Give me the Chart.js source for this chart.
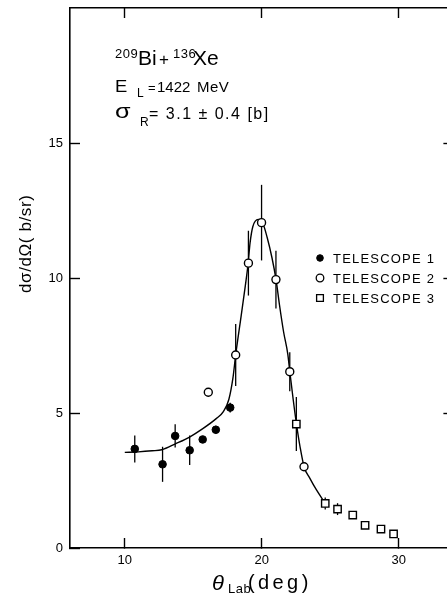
<!DOCTYPE html>
<html>
<head>
<meta charset="utf-8">
<script src="https://cdn.jsdelivr.net/npm/chart.js@4.4.1/dist/chart.umd.min.js"></script>
<style>
  html, body { margin:0; padding:0; background:#fff; overflow:hidden; }
  canvas { display:block; }
</style>
</head>
<body>
<canvas id="c" width="460" height="598"></canvas>
<script>
/* ---------- data ---------- */
const t1X   = [10.73, 12.76, 13.68, 14.74, 15.69, 16.65, 17.70];
const t1Y   = [3.67, 3.10, 4.15, 3.62, 4.02, 4.38, 5.20];
const t1Err = [0.50, 0.65, 0.43, 0.55, 0, 0.15, 0.18];

const t2X   = [16.10, 18.10, 19.03, 19.99, 21.04, 22.05, 23.09];
const t2Y   = [5.77, 7.15, 10.55, 12.05, 9.94, 6.53, 3.01];
const t2Err = [0.15, 1.15, 1.20, 1.40, 1.07, 0.72, 0.15];

const t3X   = [22.53, 24.64, 25.54, 26.65, 27.55, 28.71, 29.63];
const t3Y   = [4.59, 1.65, 1.44, 1.22, 0.84, 0.70, 0.52];
const t3Err = [1.00, 0.22, 0.22, 0, 0, 0, 0];

// fitted curve
const fitX = [10.0, 11.0, 12.0, 12.7, 13.7, 14.7, 15.7, 16.7, 17.2, 17.6, 17.9, 18.1, 18.5, 18.8, 19.0, 19.15, 19.35, 19.75, 20.1, 20.4, 20.75, 21.05, 21.3, 21.6, 21.9, 22.05, 22.3, 22.55, 22.8, 23.1, 23.5, 24.0, 24.65];
const fitY = [3.54, 3.56, 3.60, 3.64, 3.86, 4.10, 4.42, 4.80, 5.05, 5.50, 6.30, 7.15, 8.60, 9.70, 10.50, 11.30, 11.90, 12.17, 12.00, 11.50, 10.75, 9.93, 9.00, 8.00, 7.20, 6.55, 5.50, 4.55, 3.75, 3.00, 2.60, 2.15, 1.65];

const xTicks = [10, 20, 30];
const yTicks = [0, 5, 10, 15];
const yTicksRight = [5, 10, 15];

const legendLabels = ['TELESCOPE 1', 'TELESCOPE 2', 'TELESCOPE 3'];

const FONT = '"Liberation Sans", Arial, sans-serif';
const pts = (xs, ys) => xs.map((x, i) => ({ x, y: ys[i] }));
const setTicks = vals => s => { s.ticks = vals.map(v => ({ value: v })); };
const fixSize = (w, h) => s => {
  if (w != null) s.width = w;
  if (h != null) s.height = h;
  s.paddingTop = s.paddingBottom = s.paddingLeft = s.paddingRight = 0;
};

/* ---------- error bars (under the markers) ---------- */
const errorBars = {
  id: 'errorBars',
  beforeDatasetsDraw(chart) {
    const { ctx, scales: { x, y } } = chart;
    ctx.save();
    ctx.strokeStyle = '#000';
    ctx.lineWidth = 1.3;
    [[t1X, t1Y, t1Err], [t2X, t2Y, t2Err], [t3X, t3Y, t3Err]].forEach(([xs, ys, es]) => {
      xs.forEach((xv, i) => {
        if (!es[i]) return;
        const px = x.getPixelForValue(xv);
        ctx.beginPath();
        ctx.moveTo(px, y.getPixelForValue(ys[i] - es[i]));
        ctx.lineTo(px, y.getPixelForValue(ys[i] + es[i]));
        ctx.stroke();
      });
    });
    ctx.restore();
  }
};

/* ---------- texts: annotation, legend, axis titles ---------- */
const texts = {
  id: 'texts',
  afterDraw(chart) {
    const ctx = chart.ctx;
    // draw s at (x,y); ls = letter spacing, k = horizontal stretch
    const put = (s, x, y, size, ls, k, extra) => {
      ctx.font = (extra || '') + size + 'px ' + FONT;
      ctx.letterSpacing = (ls || 0) + 'px';
      ctx.save();
      ctx.translate(x, y);
      ctx.scale(k || 1, 1);
      ctx.fillText(s, 0, 0);
      ctx.restore();
      ctx.letterSpacing = '0px';
    };
    ctx.save();
    ctx.fillStyle = '#000';
    ctx.textBaseline = 'alphabetic';
    ctx.textAlign = 'left';

    // 209Bi + 136Xe
    put('209', 115, 58, 13, 0.5);
    put('Bi', 138, 65, 21);
    put('+', 159, 65, 17);
    put('136', 173, 58, 13, 0.5);
    put('Xe', 193, 65, 21);

    // E_L = 1422 MeV
    put('E', 115, 92, 16, 0, 1.15);
    put('L', 137, 97, 12);
    put('=', 148, 92, 13);
    put('1422', 157, 92, 15, 0);
    put('MeV', 197, 92, 15, 0.5);

    // sigma_R
    put('σ', 115, 118, 21, 0, 1.2);
    put('R', 140, 126, 12);
    put('= 3.1 ± 0.4 [b]', 149, 119, 16, 1.5);

    // legend
    const H = Chart.helpers;
    const marks = [
      { pointStyle: 'circle', radius: 3.3, borderWidth: 1, fill: '#000' },
      { pointStyle: 'circle', radius: 3.8, borderWidth: 1.3, fill: '#fff' },
      { pointStyle: 'rect',   radius: 4.8, borderWidth: 1.3, fill: '#fff' }
    ];
    ctx.textBaseline = 'middle';
    legendLabels.forEach((lab, i) => {
      const ly = 258 + i * 20;
      ctx.save();
      ctx.fillStyle = marks[i].fill;
      ctx.strokeStyle = '#000';
      ctx.lineWidth = marks[i].borderWidth;
      H.drawPoint(ctx, { pointStyle: marks[i].pointStyle, radius: marks[i].radius, borderWidth: marks[i].borderWidth, rotation: 0 }, 320, ly);
      ctx.restore();
      put(lab, 333, ly + 1, 13, 1.2);
    });

    // x title: theta_Lab (deg)
    ctx.textBaseline = 'alphabetic';
    put('θ', 212, 590, 20, 0, 1.1, 'italic ');
    put('Lab', 228, 593, 13, 0.5);
    put('(deg)', 248, 589, 20, 3.4);

    // y title
    ctx.save();
    ctx.translate(31, 245);
    ctx.rotate(-Math.PI / 2);
    put('dσ/dΩ( b/sr)', -48, 0, 17, 0.6);
    ctx.restore();

    ctx.restore();
  }
};

const axisCommon = {
  type: 'linear',
  grid: { drawOnChartArea: false, tickLength: -10, tickWidth: 1.4, tickColor: '#000' },
  border: { color: '#000', width: 1.6 }
};
const tickFont = { family: FONT, size: 13 };

new Chart(document.getElementById('c'), {
  type: 'scatter',
  data: {
    datasets: [
      { label: legendLabels[0], data: pts(t1X, t1Y), pointStyle: 'circle', pointRadius: 3.8,
        backgroundColor: '#000', borderColor: '#000', borderWidth: 1, order: 0 },
      { label: legendLabels[1], data: pts(t2X, t2Y), pointStyle: 'circle', pointRadius: 4,
        backgroundColor: '#fff', borderColor: '#000', borderWidth: 1.4, order: 0 },
      { label: legendLabels[2], data: pts(t3X, t3Y), pointStyle: 'rect', pointRadius: 5.2,
        backgroundColor: '#fff', borderColor: '#000', borderWidth: 1.4, order: 0 },
      { label: 'fit', data: pts(fitX, fitY), showLine: true, pointRadius: 0,
        borderColor: '#000', borderWidth: 1.4, cubicInterpolationMode: 'monotone',
        fill: false, order: 5 }
    ]
  },
  options: {
    responsive: false,
    animation: false,
    layout: { padding: 0 },
    plugins: { legend: { display: false }, tooltip: { enabled: false } },
    scales: {
      x: { ...axisCommon, position: 'bottom', min: 6, max: 34,
           afterBuildTicks: setTicks(xTicks), afterFit: fixSize(null, 50),
           ticks: { color: '#000', font: tickFont, padding: 15, maxRotation: 0 } },
      x2: { ...axisCommon, position: 'top', min: 6, max: 34,
           afterBuildTicks: setTicks(xTicks), afterFit: fixSize(null, 8),
           ticks: { display: false } },
      y: { ...axisCommon, position: 'left', min: 0, max: 20,
           afterBuildTicks: setTicks(yTicks), afterFit: fixSize(70, null),
           ticks: { color: '#000', font: tickFont, padding: 17 } },
      y2: { ...axisCommon, position: 'right', min: 0, max: 20,
           afterBuildTicks: setTicks(yTicksRight), afterFit: fixSize(4, null),
           ticks: { display: false } }
    }
  },
  plugins: [errorBars, texts]
});
</script>
</body>
</html>
